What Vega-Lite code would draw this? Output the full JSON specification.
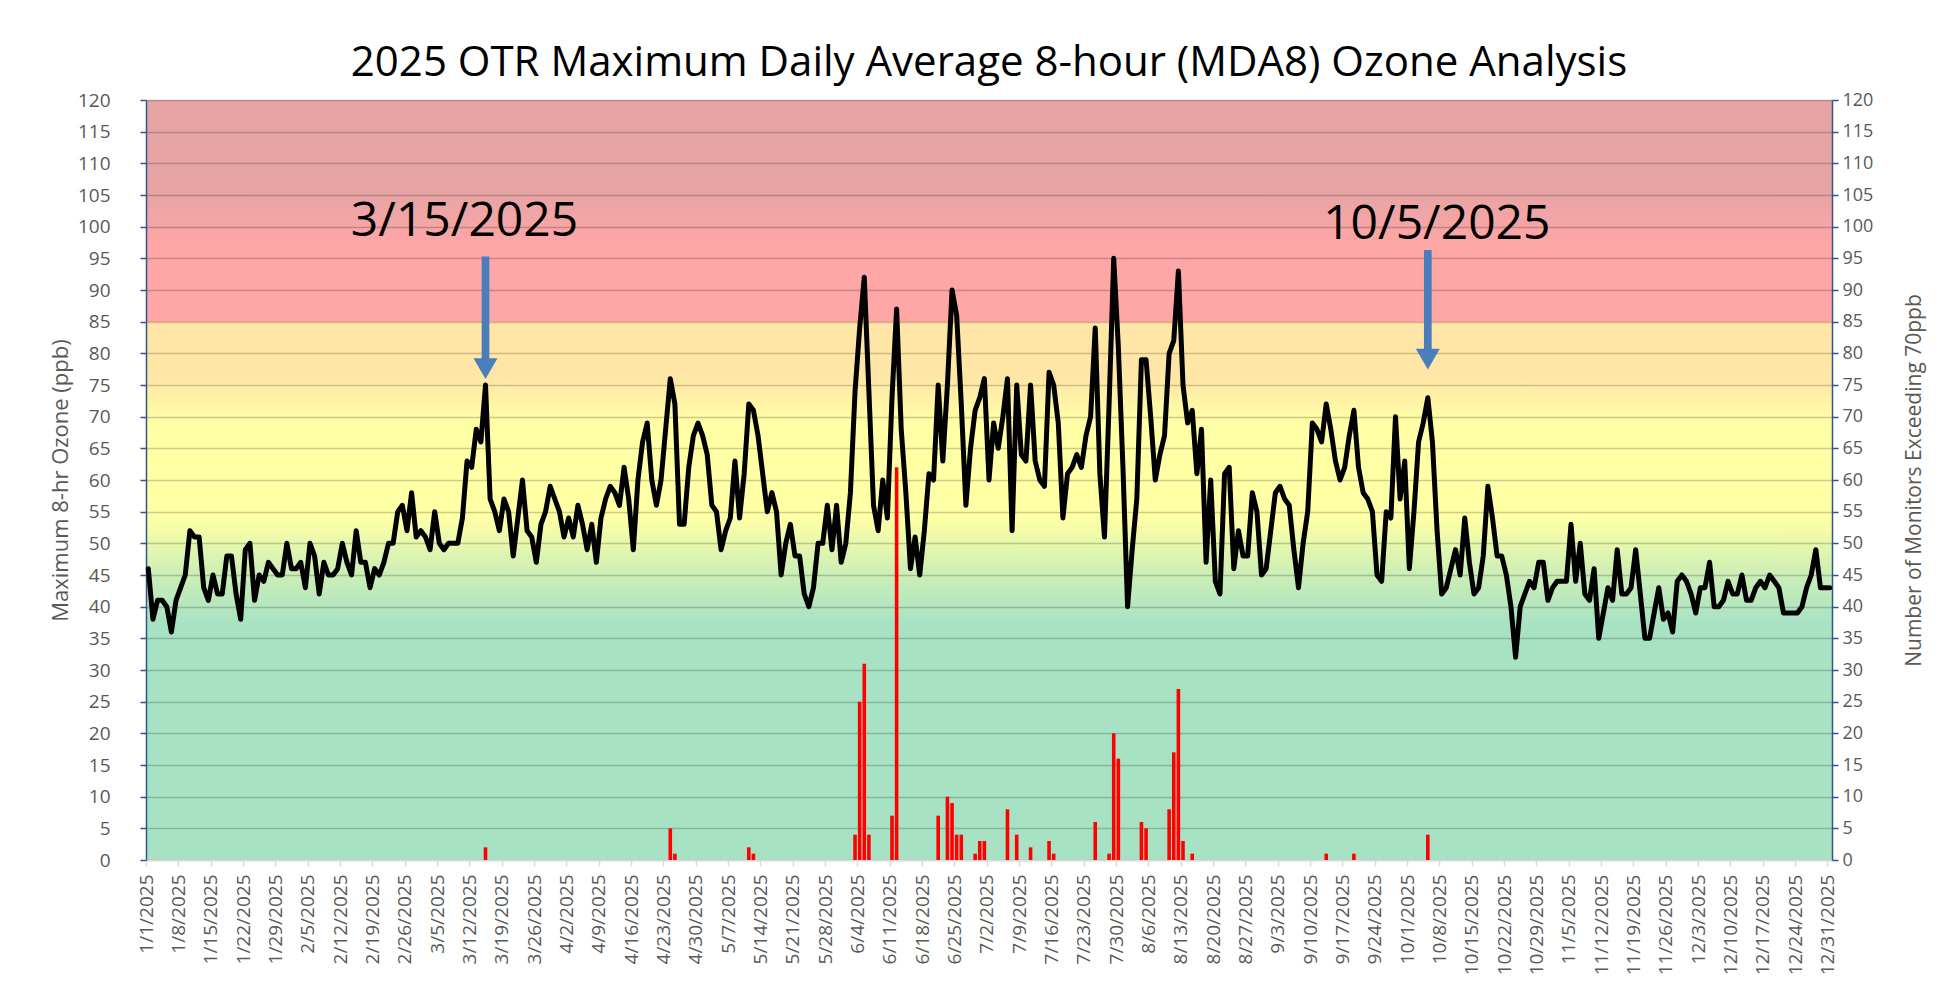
{
"$schema": "https://vega.github.io/schema/vega-lite/v6.json",
"width": 1686, "height": 760,
"autosize": {"type": "none"},
"padding": {"left": 146, "top": 100, "right": 127, "bottom": 147},
"background": "white",
"view": {"stroke": null, "fill": {"gradient": "linear", "x1": 0, "y1": 1, "x2": 0, "y2": 0, "stops": [
  {"offset": 0, "color": "#A8E2C4"}, {"offset": 0.31, "color": "#A8E2C4"}, {"offset": 0.375, "color": "#CBEEB6"},
  {"offset": 0.45, "color": "#FFFFA6"}, {"offset": 0.575, "color": "#FFFFA6"}, {"offset": 0.635, "color": "#FFE6A6"},
  {"offset": 0.708, "color": "#FFE6A6"}, {"offset": 0.7085, "color": "#FFA6A6"}, {"offset": 0.81, "color": "#FFA6A6"},
  {"offset": 0.88, "color": "#E6A4A4"}, {"offset": 1, "color": "#E6A4A4"}]}},
"config": {"font": "Open Sans", "axis": {"labelFont": "Open Sans", "titleFont": "Open Sans"}},
"title": {"text": "2025 OTR Maximum Daily Average 8-hour (MDA8) Ozone Analysis", "fontSize": 42, "fontWeight": "normal", "color": "#000000", "font": "Open Sans", "anchor": "middle", "offset": 6},
"datasets": {
"ozone": [
{"date":"2025-01-01","ozone":46},{"date":"2025-01-02","ozone":38},{"date":"2025-01-03","ozone":41},{"date":"2025-01-04","ozone":41},{"date":"2025-01-05","ozone":40},{"date":"2025-01-06","ozone":36},{"date":"2025-01-07","ozone":41},{"date":"2025-01-08","ozone":43},{"date":"2025-01-09","ozone":45},{"date":"2025-01-10","ozone":52},{"date":"2025-01-11","ozone":51},{"date":"2025-01-12","ozone":51},{"date":"2025-01-13","ozone":43},{"date":"2025-01-14","ozone":41},{"date":"2025-01-15","ozone":45},{"date":"2025-01-16","ozone":42},{"date":"2025-01-17","ozone":42},{"date":"2025-01-18","ozone":48},{"date":"2025-01-19","ozone":48},{"date":"2025-01-20","ozone":42},{"date":"2025-01-21","ozone":38},{"date":"2025-01-22","ozone":49},{"date":"2025-01-23","ozone":50},{"date":"2025-01-24","ozone":41},{"date":"2025-01-25","ozone":45},{"date":"2025-01-26","ozone":44},{"date":"2025-01-27","ozone":47},{"date":"2025-01-28","ozone":46},{"date":"2025-01-29","ozone":45},{"date":"2025-01-30","ozone":45},{"date":"2025-01-31","ozone":50},
{"date":"2025-02-01","ozone":46},{"date":"2025-02-02","ozone":46},{"date":"2025-02-03","ozone":47},{"date":"2025-02-04","ozone":43},{"date":"2025-02-05","ozone":50},{"date":"2025-02-06","ozone":48},{"date":"2025-02-07","ozone":42},{"date":"2025-02-08","ozone":47},{"date":"2025-02-09","ozone":45},{"date":"2025-02-10","ozone":45},{"date":"2025-02-11","ozone":46},{"date":"2025-02-12","ozone":50},{"date":"2025-02-13","ozone":47},{"date":"2025-02-14","ozone":45},{"date":"2025-02-15","ozone":52},{"date":"2025-02-16","ozone":47},{"date":"2025-02-17","ozone":47},{"date":"2025-02-18","ozone":43},{"date":"2025-02-19","ozone":46},{"date":"2025-02-20","ozone":45},{"date":"2025-02-21","ozone":47},{"date":"2025-02-22","ozone":50},{"date":"2025-02-23","ozone":50},{"date":"2025-02-24","ozone":55},{"date":"2025-02-25","ozone":56},{"date":"2025-02-26","ozone":52},{"date":"2025-02-27","ozone":58},{"date":"2025-02-28","ozone":51},
{"date":"2025-03-01","ozone":52},{"date":"2025-03-02","ozone":51},{"date":"2025-03-03","ozone":49},{"date":"2025-03-04","ozone":55},{"date":"2025-03-05","ozone":50},{"date":"2025-03-06","ozone":49},{"date":"2025-03-07","ozone":50},{"date":"2025-03-08","ozone":50},{"date":"2025-03-09","ozone":50},{"date":"2025-03-10","ozone":54},{"date":"2025-03-11","ozone":63},{"date":"2025-03-12","ozone":62},{"date":"2025-03-13","ozone":68},{"date":"2025-03-14","ozone":66},{"date":"2025-03-15","ozone":75},{"date":"2025-03-16","ozone":57},{"date":"2025-03-17","ozone":55},{"date":"2025-03-18","ozone":52},{"date":"2025-03-19","ozone":57},{"date":"2025-03-20","ozone":55},{"date":"2025-03-21","ozone":48},{"date":"2025-03-22","ozone":54},{"date":"2025-03-23","ozone":60},{"date":"2025-03-24","ozone":52},{"date":"2025-03-25","ozone":51},{"date":"2025-03-26","ozone":47},{"date":"2025-03-27","ozone":53},{"date":"2025-03-28","ozone":55},{"date":"2025-03-29","ozone":59},{"date":"2025-03-30","ozone":57},{"date":"2025-03-31","ozone":55},
{"date":"2025-04-01","ozone":51},{"date":"2025-04-02","ozone":54},{"date":"2025-04-03","ozone":51},{"date":"2025-04-04","ozone":56},{"date":"2025-04-05","ozone":53},{"date":"2025-04-06","ozone":49},{"date":"2025-04-07","ozone":53},{"date":"2025-04-08","ozone":47},{"date":"2025-04-09","ozone":54},{"date":"2025-04-10","ozone":57},{"date":"2025-04-11","ozone":59},{"date":"2025-04-12","ozone":58},{"date":"2025-04-13","ozone":56},{"date":"2025-04-14","ozone":62},{"date":"2025-04-15","ozone":57},{"date":"2025-04-16","ozone":49},{"date":"2025-04-17","ozone":60},{"date":"2025-04-18","ozone":66},{"date":"2025-04-19","ozone":69},{"date":"2025-04-20","ozone":60},{"date":"2025-04-21","ozone":56},{"date":"2025-04-22","ozone":60},{"date":"2025-04-23","ozone":68},{"date":"2025-04-24","ozone":76},{"date":"2025-04-25","ozone":72},{"date":"2025-04-26","ozone":53},{"date":"2025-04-27","ozone":53},{"date":"2025-04-28","ozone":62},{"date":"2025-04-29","ozone":67},{"date":"2025-04-30","ozone":69},
{"date":"2025-05-01","ozone":67},{"date":"2025-05-02","ozone":64},{"date":"2025-05-03","ozone":56},{"date":"2025-05-04","ozone":55},{"date":"2025-05-05","ozone":49},{"date":"2025-05-06","ozone":52},{"date":"2025-05-07","ozone":54},{"date":"2025-05-08","ozone":63},{"date":"2025-05-09","ozone":54},{"date":"2025-05-10","ozone":61},{"date":"2025-05-11","ozone":72},{"date":"2025-05-12","ozone":71},{"date":"2025-05-13","ozone":67},{"date":"2025-05-14","ozone":61},{"date":"2025-05-15","ozone":55},{"date":"2025-05-16","ozone":58},{"date":"2025-05-17","ozone":55},{"date":"2025-05-18","ozone":45},{"date":"2025-05-19","ozone":50},{"date":"2025-05-20","ozone":53},{"date":"2025-05-21","ozone":48},{"date":"2025-05-22","ozone":48},{"date":"2025-05-23","ozone":42},{"date":"2025-05-24","ozone":40},{"date":"2025-05-25","ozone":43},{"date":"2025-05-26","ozone":50},{"date":"2025-05-27","ozone":50},{"date":"2025-05-28","ozone":56},{"date":"2025-05-29","ozone":49},{"date":"2025-05-30","ozone":56},{"date":"2025-05-31","ozone":47},
{"date":"2025-06-01","ozone":50},{"date":"2025-06-02","ozone":58},{"date":"2025-06-03","ozone":74},{"date":"2025-06-04","ozone":84},{"date":"2025-06-05","ozone":92},{"date":"2025-06-06","ozone":74},{"date":"2025-06-07","ozone":56},{"date":"2025-06-08","ozone":52},{"date":"2025-06-09","ozone":60},{"date":"2025-06-10","ozone":54},{"date":"2025-06-11","ozone":73},{"date":"2025-06-12","ozone":87},{"date":"2025-06-13","ozone":68},{"date":"2025-06-14","ozone":58},{"date":"2025-06-15","ozone":46},{"date":"2025-06-16","ozone":51},{"date":"2025-06-17","ozone":45},{"date":"2025-06-18","ozone":52},{"date":"2025-06-19","ozone":61},{"date":"2025-06-20","ozone":60},{"date":"2025-06-21","ozone":75},{"date":"2025-06-22","ozone":63},{"date":"2025-06-23","ozone":75},{"date":"2025-06-24","ozone":90},{"date":"2025-06-25","ozone":86},{"date":"2025-06-26","ozone":72},{"date":"2025-06-27","ozone":56},{"date":"2025-06-28","ozone":65},{"date":"2025-06-29","ozone":71},{"date":"2025-06-30","ozone":73},
{"date":"2025-07-01","ozone":76},{"date":"2025-07-02","ozone":60},{"date":"2025-07-03","ozone":69},{"date":"2025-07-04","ozone":65},{"date":"2025-07-05","ozone":70},{"date":"2025-07-06","ozone":76},{"date":"2025-07-07","ozone":52},{"date":"2025-07-08","ozone":75},{"date":"2025-07-09","ozone":64},{"date":"2025-07-10","ozone":63},{"date":"2025-07-11","ozone":75},{"date":"2025-07-12","ozone":63},{"date":"2025-07-13","ozone":60},{"date":"2025-07-14","ozone":59},{"date":"2025-07-15","ozone":77},{"date":"2025-07-16","ozone":75},{"date":"2025-07-17","ozone":69},{"date":"2025-07-18","ozone":54},{"date":"2025-07-19","ozone":61},{"date":"2025-07-20","ozone":62},{"date":"2025-07-21","ozone":64},{"date":"2025-07-22","ozone":62},{"date":"2025-07-23","ozone":67},{"date":"2025-07-24","ozone":70},{"date":"2025-07-25","ozone":84},{"date":"2025-07-26","ozone":61},{"date":"2025-07-27","ozone":51},{"date":"2025-07-28","ozone":72},{"date":"2025-07-29","ozone":95},{"date":"2025-07-30","ozone":81},{"date":"2025-07-31","ozone":62},
{"date":"2025-08-01","ozone":40},{"date":"2025-08-02","ozone":49},{"date":"2025-08-03","ozone":57},{"date":"2025-08-04","ozone":79},{"date":"2025-08-05","ozone":79},{"date":"2025-08-06","ozone":70},{"date":"2025-08-07","ozone":60},{"date":"2025-08-08","ozone":64},{"date":"2025-08-09","ozone":67},{"date":"2025-08-10","ozone":80},{"date":"2025-08-11","ozone":82},{"date":"2025-08-12","ozone":93},{"date":"2025-08-13","ozone":75},{"date":"2025-08-14","ozone":69},{"date":"2025-08-15","ozone":71},{"date":"2025-08-16","ozone":61},{"date":"2025-08-17","ozone":68},{"date":"2025-08-18","ozone":47},{"date":"2025-08-19","ozone":60},{"date":"2025-08-20","ozone":44},{"date":"2025-08-21","ozone":42},{"date":"2025-08-22","ozone":61},{"date":"2025-08-23","ozone":62},{"date":"2025-08-24","ozone":46},{"date":"2025-08-25","ozone":52},{"date":"2025-08-26","ozone":48},{"date":"2025-08-27","ozone":48},{"date":"2025-08-28","ozone":58},{"date":"2025-08-29","ozone":55},{"date":"2025-08-30","ozone":45},{"date":"2025-08-31","ozone":46},
{"date":"2025-09-01","ozone":52},{"date":"2025-09-02","ozone":58},{"date":"2025-09-03","ozone":59},{"date":"2025-09-04","ozone":57},{"date":"2025-09-05","ozone":56},{"date":"2025-09-06","ozone":49},{"date":"2025-09-07","ozone":43},{"date":"2025-09-08","ozone":50},{"date":"2025-09-09","ozone":55},{"date":"2025-09-10","ozone":69},{"date":"2025-09-11","ozone":68},{"date":"2025-09-12","ozone":66},{"date":"2025-09-13","ozone":72},{"date":"2025-09-14","ozone":68},{"date":"2025-09-15","ozone":63},{"date":"2025-09-16","ozone":60},{"date":"2025-09-17","ozone":62},{"date":"2025-09-18","ozone":67},{"date":"2025-09-19","ozone":71},{"date":"2025-09-20","ozone":62},{"date":"2025-09-21","ozone":58},{"date":"2025-09-22","ozone":57},{"date":"2025-09-23","ozone":55},{"date":"2025-09-24","ozone":45},{"date":"2025-09-25","ozone":44},{"date":"2025-09-26","ozone":55},{"date":"2025-09-27","ozone":54},{"date":"2025-09-28","ozone":70},{"date":"2025-09-29","ozone":57},{"date":"2025-09-30","ozone":63},
{"date":"2025-10-01","ozone":46},{"date":"2025-10-02","ozone":55},{"date":"2025-10-03","ozone":66},{"date":"2025-10-04","ozone":69},{"date":"2025-10-05","ozone":73},{"date":"2025-10-06","ozone":66},{"date":"2025-10-07","ozone":52},{"date":"2025-10-08","ozone":42},{"date":"2025-10-09","ozone":43},{"date":"2025-10-10","ozone":46},{"date":"2025-10-11","ozone":49},{"date":"2025-10-12","ozone":45},{"date":"2025-10-13","ozone":54},{"date":"2025-10-14","ozone":47},{"date":"2025-10-15","ozone":42},{"date":"2025-10-16","ozone":43},{"date":"2025-10-17","ozone":48},{"date":"2025-10-18","ozone":59},{"date":"2025-10-19","ozone":54},{"date":"2025-10-20","ozone":48},{"date":"2025-10-21","ozone":48},{"date":"2025-10-22","ozone":45},{"date":"2025-10-23","ozone":40},{"date":"2025-10-24","ozone":32},{"date":"2025-10-25","ozone":40},{"date":"2025-10-26","ozone":42},{"date":"2025-10-27","ozone":44},{"date":"2025-10-28","ozone":43},{"date":"2025-10-29","ozone":47},{"date":"2025-10-30","ozone":47},{"date":"2025-10-31","ozone":41},
{"date":"2025-11-01","ozone":43},{"date":"2025-11-02","ozone":44},{"date":"2025-11-03","ozone":44},{"date":"2025-11-04","ozone":44},{"date":"2025-11-05","ozone":53},{"date":"2025-11-06","ozone":44},{"date":"2025-11-07","ozone":50},{"date":"2025-11-08","ozone":42},{"date":"2025-11-09","ozone":41},{"date":"2025-11-10","ozone":46},{"date":"2025-11-11","ozone":35},{"date":"2025-11-12","ozone":39},{"date":"2025-11-13","ozone":43},{"date":"2025-11-14","ozone":41},{"date":"2025-11-15","ozone":49},{"date":"2025-11-16","ozone":42},{"date":"2025-11-17","ozone":42},{"date":"2025-11-18","ozone":43},{"date":"2025-11-19","ozone":49},{"date":"2025-11-20","ozone":42},{"date":"2025-11-21","ozone":35},{"date":"2025-11-22","ozone":35},{"date":"2025-11-23","ozone":39},{"date":"2025-11-24","ozone":43},{"date":"2025-11-25","ozone":38},{"date":"2025-11-26","ozone":39},{"date":"2025-11-27","ozone":36},{"date":"2025-11-28","ozone":44},{"date":"2025-11-29","ozone":45},{"date":"2025-11-30","ozone":44},
{"date":"2025-12-01","ozone":42},{"date":"2025-12-02","ozone":39},{"date":"2025-12-03","ozone":43},{"date":"2025-12-04","ozone":43},{"date":"2025-12-05","ozone":47},{"date":"2025-12-06","ozone":40},{"date":"2025-12-07","ozone":40},{"date":"2025-12-08","ozone":41},{"date":"2025-12-09","ozone":44},{"date":"2025-12-10","ozone":42},{"date":"2025-12-11","ozone":42},{"date":"2025-12-12","ozone":45},{"date":"2025-12-13","ozone":41},{"date":"2025-12-14","ozone":41},{"date":"2025-12-15","ozone":43},{"date":"2025-12-16","ozone":44},{"date":"2025-12-17","ozone":43},{"date":"2025-12-18","ozone":45},{"date":"2025-12-19","ozone":44},{"date":"2025-12-20","ozone":43},{"date":"2025-12-21","ozone":39},{"date":"2025-12-22","ozone":39},{"date":"2025-12-23","ozone":39},{"date":"2025-12-24","ozone":39},{"date":"2025-12-25","ozone":40},{"date":"2025-12-26","ozone":43},{"date":"2025-12-27","ozone":45},{"date":"2025-12-28","ozone":49},{"date":"2025-12-29","ozone":43},{"date":"2025-12-30","ozone":43},{"date":"2025-12-31","ozone":43}
],
"monitors": [
{"date":"2025-03-15","monitors":2},{"date":"2025-04-24","monitors":5},{"date":"2025-04-25","monitors":1},{"date":"2025-05-11","monitors":2},{"date":"2025-05-12","monitors":1},
{"date":"2025-06-03","monitors":4},{"date":"2025-06-04","monitors":25},{"date":"2025-06-05","monitors":31},{"date":"2025-06-06","monitors":4},{"date":"2025-06-11","monitors":7},{"date":"2025-06-12","monitors":62},
{"date":"2025-06-21","monitors":7},{"date":"2025-06-23","monitors":10},{"date":"2025-06-24","monitors":9},{"date":"2025-06-25","monitors":4},{"date":"2025-06-26","monitors":4},{"date":"2025-06-29","monitors":1},{"date":"2025-06-30","monitors":3},
{"date":"2025-07-01","monitors":3},{"date":"2025-07-06","monitors":8},{"date":"2025-07-08","monitors":4},{"date":"2025-07-11","monitors":2},{"date":"2025-07-15","monitors":3},{"date":"2025-07-16","monitors":1},{"date":"2025-07-25","monitors":6},{"date":"2025-07-28","monitors":1},{"date":"2025-07-29","monitors":20},{"date":"2025-07-30","monitors":16},
{"date":"2025-08-04","monitors":6},{"date":"2025-08-05","monitors":5},{"date":"2025-08-10","monitors":8},{"date":"2025-08-11","monitors":17},{"date":"2025-08-12","monitors":27},{"date":"2025-08-13","monitors":3},{"date":"2025-08-15","monitors":1},
{"date":"2025-09-13","monitors":1},{"date":"2025-09-19","monitors":1},{"date":"2025-10-05","monitors":4}
],
"arrows": [
{"date":"2025-03-15","label":"3/15/2025","shaftTop":95.3,"headTop":79,"headMid":77.6},
{"date":"2025-10-05","label":"10/5/2025","shaftTop":96.3,"headTop":80.5,"headMid":79.1}
]
},
"encoding": {
  "x": {"field": "date", "type": "temporal", "timeUnit": "utcyearmonthdate", "bandPosition": 0.5,
    "scale": {"type": "utc", "domain": [{"year":2025,"month":1,"date":1,"utc":true},{"year":2026,"month":1,"date":1,"utc":true}], "nice": false},
    "axis": {"values": [
      {"year":2025,"month":1,"date":1,"utc":true},{"year":2025,"month":1,"date":8,"utc":true},{"year":2025,"month":1,"date":15,"utc":true},{"year":2025,"month":1,"date":22,"utc":true},{"year":2025,"month":1,"date":29,"utc":true},
      {"year":2025,"month":2,"date":5,"utc":true},{"year":2025,"month":2,"date":12,"utc":true},{"year":2025,"month":2,"date":19,"utc":true},{"year":2025,"month":2,"date":26,"utc":true},
      {"year":2025,"month":3,"date":5,"utc":true},{"year":2025,"month":3,"date":12,"utc":true},{"year":2025,"month":3,"date":19,"utc":true},{"year":2025,"month":3,"date":26,"utc":true},
      {"year":2025,"month":4,"date":2,"utc":true},{"year":2025,"month":4,"date":9,"utc":true},{"year":2025,"month":4,"date":16,"utc":true},{"year":2025,"month":4,"date":23,"utc":true},{"year":2025,"month":4,"date":30,"utc":true},
      {"year":2025,"month":5,"date":7,"utc":true},{"year":2025,"month":5,"date":14,"utc":true},{"year":2025,"month":5,"date":21,"utc":true},{"year":2025,"month":5,"date":28,"utc":true},
      {"year":2025,"month":6,"date":4,"utc":true},{"year":2025,"month":6,"date":11,"utc":true},{"year":2025,"month":6,"date":18,"utc":true},{"year":2025,"month":6,"date":25,"utc":true},
      {"year":2025,"month":7,"date":2,"utc":true},{"year":2025,"month":7,"date":9,"utc":true},{"year":2025,"month":7,"date":16,"utc":true},{"year":2025,"month":7,"date":23,"utc":true},{"year":2025,"month":7,"date":30,"utc":true},
      {"year":2025,"month":8,"date":6,"utc":true},{"year":2025,"month":8,"date":13,"utc":true},{"year":2025,"month":8,"date":20,"utc":true},{"year":2025,"month":8,"date":27,"utc":true},
      {"year":2025,"month":9,"date":3,"utc":true},{"year":2025,"month":9,"date":10,"utc":true},{"year":2025,"month":9,"date":17,"utc":true},{"year":2025,"month":9,"date":24,"utc":true},
      {"year":2025,"month":10,"date":1,"utc":true},{"year":2025,"month":10,"date":8,"utc":true},{"year":2025,"month":10,"date":15,"utc":true},{"year":2025,"month":10,"date":22,"utc":true},{"year":2025,"month":10,"date":29,"utc":true},
      {"year":2025,"month":11,"date":5,"utc":true},{"year":2025,"month":11,"date":12,"utc":true},{"year":2025,"month":11,"date":19,"utc":true},{"year":2025,"month":11,"date":26,"utc":true},
      {"year":2025,"month":12,"date":3,"utc":true},{"year":2025,"month":12,"date":10,"utc":true},{"year":2025,"month":12,"date":17,"utc":true},{"year":2025,"month":12,"date":24,"utc":true},{"year":2025,"month":12,"date":31,"utc":true}],
      "labelExpr": "utcFormat(datum.value, '%-m/%-d/%Y')",
      "labelAngle": 270, "labelFontSize": 19, "labelColor": "#595959", "labelPadding": 8, "labelOverlap": false, "labelFlush": false,
      "tickSize": 6, "tickColor": "#D9D9D9", "tickWidth": 1.5, "domainColor": "#D9D9D9", "domainWidth": 1.5, "title": null, "grid": false}
  }
},
"layer": [
  {
    "data": {"name": "ozone"},
    "mark": {"type": "line", "color": "#000000", "strokeWidth": 5, "strokeJoin": "round", "strokeCap": "round"},
    "encoding": {
      "y": {"field": "ozone", "type": "quantitative", "scale": {"domain": [0, 120], "nice": false},
        "axis": {"orient": "left", "values": [0,5,10,15,20,25,30,35,40,45,50,55,60,65,70,75,80,85,90,95,100,105,110,115,120],
          "title": "Maximum 8-hr Ozone (ppb)", "titleFontSize": 22, "titleFontWeight": "normal", "titleColor": "#595959", "titlePadding": 5,
          "labelFontSize": 19, "labelColor": "#595959", "labelPadding": 30,
          "tickSize": 6, "tickColor": "#2F5597", "tickWidth": 1.5, "domainColor": "#2F5597", "domainWidth": 1.5,
          "grid": true, "gridColor": "#000000", "gridOpacity": 0.2, "gridWidth": 1.5}}
    }
  },
  {
    "data": {"name": "monitors"},
    "mark": {"type": "bar", "color": "#FF0000", "width": 3.6},
    "encoding": {
      "y": {"field": "monitors", "type": "quantitative", "scale": {"domain": [0, 120], "nice": false},
        "axis": {"orient": "right", "values": [0,5,10,15,20,25,30,35,40,45,50,55,60,65,70,75,80,85,90,95,100,105,110,115,120],
          "title": "Number of Monitors Exceeding 70ppb", "titleAngle": 270, "titleFontSize": 21, "titleFontWeight": "normal", "titleColor": "#595959", "titlePadding": 52,
          "labelFontSize": 18, "labelColor": "#595959", "labelPadding": 4,
          "tickSize": 6, "tickColor": "#2F5597", "tickWidth": 1.5, "domainColor": "#2F5597", "domainWidth": 1.5, "grid": false}}
    }
  },
  {
    "data": {"name": "arrows"},
    "mark": {"type": "rule", "color": "#4A7EBB", "strokeWidth": 7.7, "strokeCap": "butt"},
    "encoding": {
      "y": {"field": "shaftTop", "type": "quantitative", "scale": {"domain": [0, 120], "nice": false}, "axis": null},
      "y2": {"field": "headTop"}
    }
  },
  {
    "data": {"name": "arrows"},
    "mark": {"type": "point", "shape": "triangle-down", "filled": true, "color": "#4A7EBB", "opacity": 1, "size": 576},
    "encoding": {
      "y": {"field": "headMid", "type": "quantitative", "scale": {"domain": [0, 120], "nice": false}, "axis": null}
    }
  },
  {
    "data": {"name": "arrows"},
    "transform": [{"filter": "datum.label == '3/15/2025'"}],
    "mark": {"type": "text", "fontSize": 48, "font": "Open Sans", "color": "#000000", "dx": -21, "baseline": "middle", "align": "center"},
    "encoding": {
      "y": {"datum": 100.7, "type": "quantitative", "scale": {"domain": [0, 120], "nice": false}, "axis": null},
      "text": {"field": "label"}
    }
  },
  {
    "data": {"name": "arrows"},
    "transform": [{"filter": "datum.label == '10/5/2025'"}],
    "mark": {"type": "text", "fontSize": 48, "font": "Open Sans", "color": "#000000", "dx": 9, "baseline": "middle", "align": "center"},
    "encoding": {
      "y": {"datum": 100.3, "type": "quantitative", "scale": {"domain": [0, 120], "nice": false}, "axis": null},
      "text": {"field": "label"}
    }
  }
],
"resolve": {"scale": {"y": "independent"}}
}
